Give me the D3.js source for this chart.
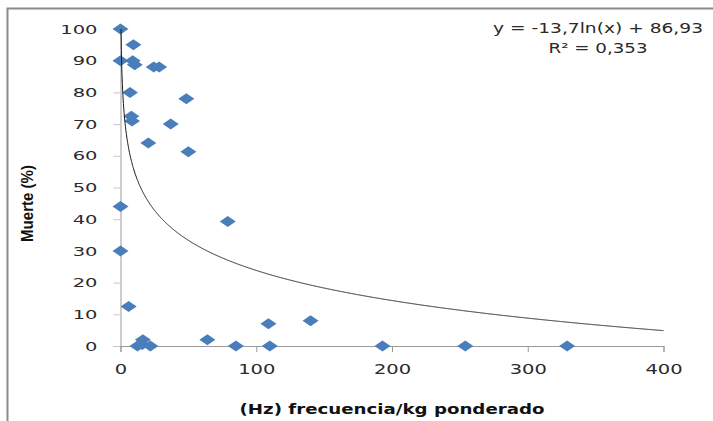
<!DOCTYPE html>
<html>
<head>
<meta charset="utf-8">
<script src="https://cdn.jsdelivr.net/npm/d3@7"></script>
<style>
  body { margin: 0; background: #fff; }
  svg { display: block; }
</style>
</head>
<body>
<div id="graph"></div>
<script>
const width = 713
const height = 421

// frecuencia/kg ponderado (Hz) and muerte (%)
const frecuencia = [0, 9.5, 0, 9, 10.5, 24.5, 28.5, 7, 48.5, 8, 8.5, 37, 20.5, 50,
  0, 79, 0, 6, 16.5, 12.5, 16, 22, 64, 85, 109, 110, 140, 193, 254, 329]
const muerte = [100, 95, 90, 90, 88.7, 88, 88, 80, 78, 72.5, 71, 70, 64, 61.3,
  44, 39.3, 30, 12.5, 2, 0, 0.5, 0, 2, 0, 7, 0, 8, 0, 0, 0]

const xTicks = [0, 100, 200, 300, 400]
const yTicks = [0, 10, 20, 30, 40, 50, 60, 70, 80, 90, 100]

// logarithmic trend line, coefficients from the chart label
const trendA = -13.7
const trendB = 86.93
const trendLabel = ['y = -13,7ln(x) + 86,93', 'R² = 0,353']

const points = frecuencia.map((f, i) => ({x: f, y: muerte[i]}))

const svg = d3.select('#graph')
  .append('svg')
  .attr('width', width)
  .attr('height', height)

// outer frame (only top and left edges show)
svg.append('path')
  .attr('d', 'M7.5,421V8.5H713')
  .attr('fill', 'none')
  .attr('stroke', '#8a8a8a')
  .attr('stroke-width', 2)

const xScale = d3.scaleLinear().domain([0, 400]).range([120.5, 663.5])
const yScale = d3.scaleLinear().domain([0, 100]).range([346, 29])

const tickColor = '#2a2a2a'
const axisColor = '#9a9a9a'

// y axis
const yAxis = svg.append('g')
  .attr('transform', `translate(${xScale(0)},0)`)
  .call(d3.axisLeft(yScale).tickValues(yTicks).tickSize(7).tickPadding(16))
yAxis.select('.domain').attr('stroke', axisColor)
yAxis.selectAll('.tick line').attr('stroke', '#c8c8c8')
yAxis.selectAll('.tick text')
  .attr('fill', tickColor)
  .attr('font-family', 'DejaVu Sans')
  .attr('font-size', 13)
  .attr('textLength', d => String(d).length * 12.4)
  .attr('lengthAdjust', 'spacingAndGlyphs')

// x axis
const xAxis = svg.append('g')
  .attr('transform', `translate(0,${yScale(0)})`)
  .call(d3.axisBottom(xScale).tickValues(xTicks).tickSize(6).tickPadding(12))
xAxis.select('.domain').attr('stroke', axisColor)
xAxis.selectAll('.tick line').attr('stroke', axisColor)
xAxis.selectAll('.tick text')
  .attr('fill', tickColor)
  .attr('font-family', 'DejaVu Sans')
  .attr('font-size', 14)
  .attr('textLength', d => String(d).length * 12.4)
  .attr('lengthAdjust', 'spacingAndGlyphs')

// axis titles
svg.append('text')
  .attr('x', xScale(200))
  .attr('y', 413.5)
  .attr('text-anchor', 'middle')
  .attr('font-family', 'DejaVu Sans')
  .attr('font-weight', 'bold')
  .attr('font-size', 14)
  .attr('fill', '#111')
  .attr('textLength', 305)
  .attr('lengthAdjust', 'spacingAndGlyphs')
  .text('(Hz) frecuencia/kg ponderado')

svg.append('text')
  .attr('transform', 'translate(33,203.5) rotate(-90)')
  .attr('text-anchor', 'middle')
  .attr('font-family', 'Liberation Sans')
  .attr('font-weight', 'bold')
  .attr('font-size', 16)
  .attr('fill', '#111')
  .attr('textLength', 77)
  .attr('lengthAdjust', 'spacingAndGlyphs')
  .text('Muerte (%)')

// markers
const diamond = {
  draw(ctx) {
    ctx.moveTo(0, -5.5)
    ctx.lineTo(8, 0)
    ctx.lineTo(0, 5.5)
    ctx.lineTo(-8, 0)
    ctx.closePath()
  }
}

svg.append('g')
  .selectAll('path')
  .data(points)
  .join('path')
  .attr('transform', d => `translate(${xScale(d.x)},${yScale(d.y)})`)
  .attr('d', d3.symbol().type(diamond))
  .attr('fill', '#4a7ebb')

// trend line
const trendX = d3.range(Math.exp((100 - trendB) / trendA), 400, 0.25).concat([400])
const trend = d3.line()
  .x(d => xScale(d))
  .y(d => yScale(trendA * Math.log(d) + trendB))

svg.append('path')
  .datum(trendX)
  .attr('d', trend)
  .attr('fill', 'none')
  .attr('stroke', '#1a1a1a')
  .attr('stroke-width', 1)

// equation label
svg.append('g')
  .selectAll('text')
  .data(trendLabel)
  .join('text')
  .attr('x', 598)
  .attr('y', (d, i) => 32.5 + i * 20.5)
  .attr('text-anchor', 'middle')
  .attr('font-family', 'DejaVu Sans')
  .attr('font-size', 13.5)
  .attr('fill', tickColor)
  .attr('textLength', (d, i) => i === 0 ? 210 : 99)
  .attr('lengthAdjust', 'spacingAndGlyphs')
  .text(d => d)
</script>
</body>
</html>
